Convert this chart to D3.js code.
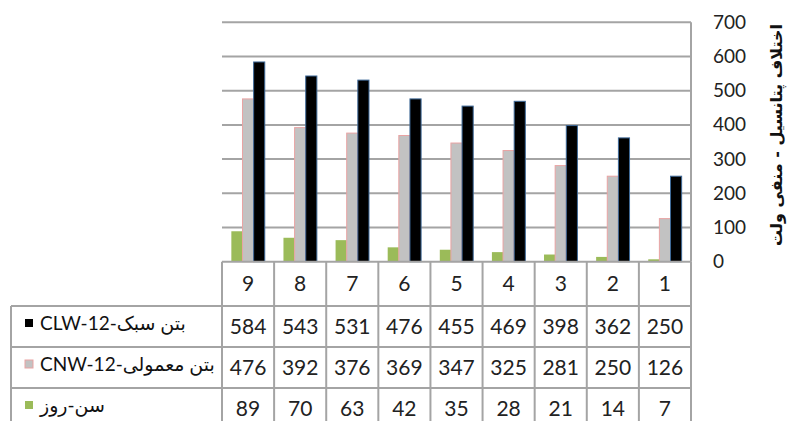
<!DOCTYPE html>
<html>
<head>
<meta charset="utf-8">
<script src="https://cdn.jsdelivr.net/npm/d3@7"></script>
<style>
  body { margin: 0; background: #fff; }
  svg { display: block; }
</style>
</head>
<body>
<svg id="chart" width="792" height="421"></svg>
<script>
// categories shown right to left, as in the original
const categories = ["9", "8", "7", "6", "5", "4", "3", "2", "1"];
const clwValues = [584, 543, 531, 476, 455, 469, 398, 362, 250];
const cnwValues = [476, 392, 376, 369, 347, 325, 281, 250, 126];
const ageValues = [89, 70, 63, 42, 35, 28, 21, 14, 7];
const yTicks = [0, 100, 200, 300, 400, 500, 600, 700];
const seriesNames = ["بتن سبک-CLW-12", "بتن معمولی-CNW-12", "سن-روز"];
const axisTitle = "اختلاف پتانسیل - منفی ولت";

const svg = d3.select("#chart");

// plot area
const plot = { left: 222, right: 691, top: 22.3, bottom: 261.7 };
const table = { left: 11, headerBottom: 306, rowH: 41 };
const gridColor = "#a4a4a4";
const font = "Lato, 'DejaVu Sans', sans-serif";

const x = d3.scaleBand()
    .domain(categories)
    .range([plot.left, plot.right]);

// bars inside each category: green, gray, black from left to right
const series = [
    { key: "age", values: ageValues, fill: "#9bbb59", stroke: "none" },
    { key: "cnw", values: cnwValues, fill: "#c2c2c2", stroke: "#e9a3a3" },
    { key: "clw", values: clwValues, fill: "#000000", stroke: "#3f6a99" }
];

const xSub = d3.scaleBand()
    .domain(series.map(s => s.key))
    .range([0, x.bandwidth()])
    .paddingOuter(0.84);

const y = d3.scaleLinear()
    .domain([0, 700])
    .range([plot.bottom, plot.top]);

// gridlines
svg.append("g")
    .selectAll("line")
    .data(yTicks.filter(d => d > 0))
    .join("line")
    .attr("x1", plot.left)
    .attr("x2", plot.right)
    .attr("y1", d => y(d))
    .attr("y2", d => y(d))
    .attr("stroke", gridColor)
    .attr("stroke-width", 2);

// right border of the plot
svg.append("line")
    .attr("x1", plot.right).attr("x2", plot.right)
    .attr("y1", plot.top).attr("y2", plot.bottom)
    .attr("stroke", gridColor)
    .attr("stroke-width", 2);

// bars
series.forEach(s => {
    svg.append("g")
        .selectAll("rect")
        .data(s.values)
        .join("rect")
        .attr("x", (d, i) => x(categories[i]) + xSub(s.key))
        .attr("y", d => y(d))
        .attr("width", xSub.bandwidth())
        .attr("height", d => y(0) - y(d))
        .attr("fill", s.fill)
        .attr("stroke", s.stroke)
        .attr("stroke-width", 1);
});

// right axis
const yAxis = svg.append("g")
    .attr("transform", `translate(${plot.right},0)`)
    .call(d3.axisRight(y).tickValues(yTicks).tickSize(0).tickPadding(22));
yAxis.select(".domain").remove();
yAxis.selectAll("text")
    .attr("font-family", font)
    .attr("font-size", 19)
    .attr("fill", "#222");

// axis title
svg.append("text")
    .attr("transform", "translate(782,135) rotate(-90)")
    .attr("text-anchor", "middle")
    .attr("font-family", "'DejaVu Sans', sans-serif")
    .attr("font-weight", "bold")
    .attr("font-size", 16)
    .attr("fill", "#111")
    .text(axisTitle);

// data table
const rows = [clwValues, cnwValues, ageValues];
const rowTop = i => table.headerBottom + i * table.rowH;
const tableBottom = rowTop(rows.length);

const tg = svg.append("g");
const lineAttrs = sel => sel.attr("stroke", gridColor).attr("stroke-width", 2);

// horizontal lines
tg.append("line").attr("x1", plot.left).attr("x2", plot.right)
    .attr("y1", plot.bottom).attr("y2", plot.bottom).call(lineAttrs);
tg.selectAll("line.h")
    .data(d3.range(rows.length))
    .join("line")
    .attr("class", "h")
    .attr("x1", table.left).attr("x2", plot.right)
    .attr("y1", d => rowTop(d)).attr("y2", d => rowTop(d))
    .call(lineAttrs);

// vertical lines
tg.selectAll("line.v")
    .data(categories)
    .join("line")
    .attr("class", "v")
    .attr("x1", d => x(d)).attr("x2", d => x(d))
    .attr("y1", plot.bottom).attr("y2", tableBottom)
    .call(lineAttrs);
tg.append("line").attr("x1", plot.right).attr("x2", plot.right)
    .attr("y1", plot.bottom).attr("y2", tableBottom).call(lineAttrs);
tg.append("line").attr("x1", table.left).attr("x2", table.left)
    .attr("y1", table.headerBottom).attr("y2", tableBottom).call(lineAttrs);

// category header
tg.selectAll("text.cat")
    .data(categories)
    .join("text")
    .attr("class", "cat")
    .attr("x", d => x(d) + x.bandwidth() / 2)
    .attr("y", (plot.bottom + table.headerBottom) / 2)
    .attr("dy", "0.36em")
    .attr("text-anchor", "middle")
    .attr("font-family", font)
    .attr("font-size", 21)
    .attr("fill", "#222")
    .text(d => d);

// values
rows.forEach((vals, r) => {
    tg.append("g")
        .selectAll("text")
        .data(vals)
        .join("text")
        .attr("x", (d, i) => x(categories[i]) + x.bandwidth() / 2)
        .attr("y", rowTop(r) + table.rowH / 2)
        .attr("dy", "0.36em")
        .attr("text-anchor", "middle")
        .attr("font-family", font)
        .attr("font-size", 21)
        .attr("fill", "#222")
        .text(d => d);
});

// legend keys in the table
const legendSeries = [series[2], series[1], series[0]];
legendSeries.forEach((s, r) => {
    const cy = rowTop(r) + table.rowH / 2 - 3.5;
    tg.append("rect")
        .attr("x", 25).attr("y", cy - 4)
        .attr("width", 8).attr("height", 8)
        .attr("fill", s.fill)
        .attr("stroke", s.key === "cnw" ? s.stroke : "none");
    tg.append("text")
        .attr("x", 40)
        .attr("y", cy)
        .attr("dy", "0.36em")
        .attr("direction", "rtl")
        .attr("text-anchor", "end")
        .attr("font-family", font)
        .attr("font-size", 19)
        .attr("fill", "#111")
        .text(seriesNames[r]);
});
</script>
</body>
</html>
